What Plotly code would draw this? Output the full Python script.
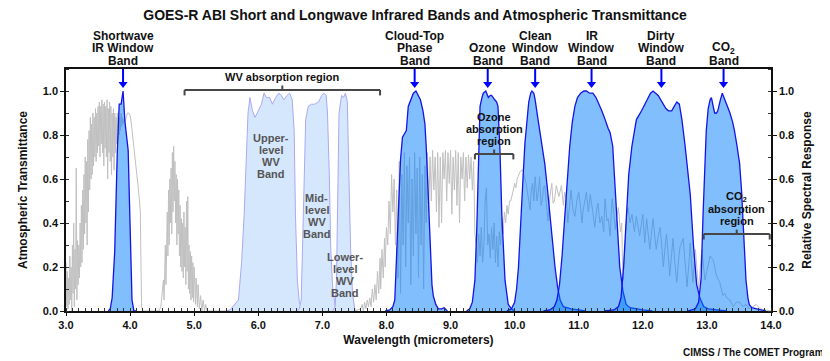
import plotly.graph_objects as go

# ---------------- data ----------------
trans_wl = [
    3.00, 3.01, 3.02, 3.03, 3.04, 3.05, 3.06, 3.07, 3.08, 3.09, 3.10, 3.11, 3.12, 3.13, 3.14, 3.15,
    3.16, 3.17, 3.18, 3.19, 3.20, 3.21, 3.22, 3.23, 3.24, 3.25, 3.26, 3.27, 3.28, 3.29, 3.30, 3.31,
    3.32, 3.33, 3.34, 3.35, 3.36, 3.37, 3.38, 3.39, 3.40, 3.41, 3.42, 3.43, 3.44, 3.45, 3.46, 3.47,
    3.48, 3.49, 3.50, 3.51, 3.52, 3.53, 3.54, 3.55, 3.56, 3.57, 3.58, 3.59, 3.60, 3.61, 3.62, 3.63,
    3.64, 3.65, 3.66, 3.67, 3.68, 3.69, 3.70, 3.71, 3.72, 3.73, 3.74, 3.75, 3.76, 3.77, 3.78, 3.79,
    3.80, 3.81, 3.82, 3.83, 3.84, 3.85, 3.86, 3.87, 3.88, 3.89, 3.90, 3.92, 3.94, 3.96, 3.98, 4.00,
    4.02, 4.04, 4.06, 4.08, 4.10, 4.12, 4.14, 4.16, 4.17, 4.18, 4.20,
    4.45, 4.48, 4.50, 4.52, 4.53, 4.55, 4.56, 4.58, 4.59, 4.60, 4.61, 4.62, 4.63, 4.64, 4.65, 4.66,
    4.67, 4.68, 4.69, 4.70, 4.71, 4.72, 4.73, 4.74, 4.75, 4.76, 4.77, 4.78, 4.79, 4.80, 4.81, 4.82,
    4.83, 4.84, 4.85, 4.86, 4.87, 4.88, 4.89, 4.90, 4.91, 4.92, 4.93, 4.94, 4.95, 4.96, 4.97, 4.98,
    4.99, 5.00, 5.02, 5.03, 5.05, 5.06, 5.08, 5.10, 5.12, 5.14, 5.16, 5.18, 5.20,
    7.50, 7.60, 7.62, 7.64, 7.66, 7.68, 7.70, 7.72, 7.74, 7.76, 7.78, 7.80, 7.82, 7.84, 7.86, 7.88,
    7.90, 7.91, 7.93, 7.95, 7.97, 7.98, 8.00, 8.02, 8.04, 8.06, 8.08, 8.10, 8.12, 8.14, 8.16, 8.18,
    8.20, 8.22, 8.24, 8.26, 8.28, 8.30, 8.32, 8.34, 8.36, 8.38, 8.40, 8.42, 8.44, 8.46, 8.48, 8.50,
    8.52, 8.54, 8.56, 8.58, 8.60, 8.62, 8.64, 8.66, 8.68, 8.70, 8.72, 8.74, 8.76, 8.78, 8.80, 8.82,
    8.84, 8.86, 8.88, 8.90, 8.92, 8.94, 8.96, 8.98, 9.00, 9.02, 9.04, 9.06, 9.08, 9.10, 9.12, 9.14,
    9.16, 9.18, 9.20, 9.22, 9.24, 9.26, 9.28, 9.30, 9.32, 9.34, 9.36, 9.38, 9.40, 9.42, 9.44, 9.46,
    9.48, 9.50, 9.52, 9.54, 9.56, 9.58, 9.60, 9.62, 9.64, 9.66, 9.68, 9.70, 9.72, 9.74, 9.76, 9.78,
    9.80, 9.82, 9.84, 9.86, 9.88, 9.90, 9.92, 9.94, 9.96, 9.98, 10.00, 10.02, 10.04, 10.06, 10.08,
    10.10, 10.13, 10.16, 10.18, 10.21, 10.24, 10.26, 10.28, 10.30, 10.32, 10.35, 10.37, 10.39, 10.41,
    10.43, 10.45, 10.47, 10.50, 10.52, 10.55, 10.58, 10.60, 10.62, 10.65, 10.69, 10.73, 10.76, 10.78,
    10.81, 10.83, 10.86, 10.88, 10.91, 10.94, 10.97, 11.00, 11.03, 11.05, 11.07, 11.09, 11.12, 11.15,
    11.18, 11.22, 11.25, 11.28, 11.30, 11.33, 11.36, 11.39, 11.41, 11.44, 11.46, 11.49, 11.52, 11.55,
    11.57, 11.60, 11.62, 11.65, 11.67, 11.69, 11.72, 11.75, 11.77, 11.80, 11.83, 11.87, 11.90, 11.93,
    11.95, 11.98, 12.00, 12.03, 12.06, 12.08, 12.11, 12.14, 12.16, 12.19, 12.21, 12.24, 12.27, 12.30,
    12.32, 12.35, 12.37, 12.40, 12.42, 12.45, 12.47, 12.50, 12.53, 12.56, 12.58, 12.63, 12.66, 12.69,
    12.72, 12.74, 12.78, 12.82, 12.87, 12.92, 12.97, 13.01, 13.05, 13.10, 13.15, 13.20, 13.25, 13.28,
    13.31, 13.36, 13.41, 13.46, 13.51, 13.56, 13.61, 13.66, 13.72, 13.77, 13.83, 13.90, 14.00,
]
trans_val = [
    0.22, 0.02, 0.18, 0.01, 0.15, 0.03, 0.25, 0.05, 0.20, 0.00, 0.30, 0.08, 0.40, 0.02, 0.28, 0.10,
    0.65, 0.05, 0.32, 0.12, 0.30, 0.15, 0.40, 0.20, 0.48, 0.22, 0.55, 0.28, 0.62, 0.35, 0.70, 0.40,
    0.68, 0.30, 0.78, 0.45, 0.82, 0.55, 0.88, 0.60, 0.85, 0.62, 0.90, 0.66, 0.88, 0.70, 0.92, 0.68,
    0.90, 0.72, 0.93, 0.75, 0.95, 0.70, 0.93, 0.76, 0.96, 0.72, 0.94, 0.66, 0.95, 0.74, 0.93, 0.70,
    0.96, 0.60, 0.92, 0.72, 0.95, 0.68, 0.93, 0.62, 0.90, 0.70, 0.92, 0.64, 0.90, 0.72, 0.88, 0.76,
    0.90, 0.78, 0.87, 0.80, 0.88, 0.82, 0.90, 0.84, 0.88, 0.85, 0.87, 0.86, 0.88, 0.90, 0.90, 0.89,
    0.85, 0.80, 0.74, 0.68, 0.64, 0.58, 0.52, 0.45, 0.20, 0.02, 0.00,
    0.00, 0.02, 0.08, 0.14, 0.05, 0.30, 0.12, 0.45, 0.25, 0.55, 0.30, 0.60, 0.40, 0.65, 0.35, 0.72,
    0.45, 0.75, 0.50, 0.68, 0.40, 0.62, 0.30, 0.60, 0.35, 0.55, 0.25, 0.48, 0.20, 0.42, 0.18, 0.40,
    0.15, 0.45, 0.20, 0.38, 0.12, 0.50, 0.18, 0.52, 0.10, 0.30, 0.08, 0.27, 0.05, 0.25, 0.06, 0.22,
    0.04, 0.20, 0.03, 0.15, 0.02, 0.12, 0.01, 0.07, 0.00, 0.05, 0.00, 0.03, 0.00,
    0.00, 0.01, 0.03, 0.00, 0.04, 0.01, 0.05, 0.02, 0.06, 0.02, 0.10, 0.04, 0.12, 0.05, 0.18, 0.08,
    0.24, 0.10, 0.28, 0.15, 0.33, 0.20, 0.38, 0.30, 0.50, 0.35, 0.62, 0.45, 0.60, 0.30, 0.55, 0.15,
    0.68, 0.08, 0.62, 0.30, 0.72, 0.20, 0.66, 0.40, 0.70, 0.12, 0.60, 0.25, 0.72, 0.35, 0.65, 0.15,
    0.70, 0.30, 0.62, 0.10, 0.66, 0.40, 0.72, 0.45, 0.70, 0.50, 0.73, 0.55, 0.70, 0.45, 0.72, 0.38,
    0.70, 0.40, 0.72, 0.60, 0.73, 0.50, 0.72, 0.58, 0.73, 0.44, 0.70, 0.55, 0.73, 0.48, 0.72, 0.40,
    0.70, 0.60, 0.72, 0.50, 0.70, 0.56, 0.71, 0.60, 0.70, 0.55, 0.68, 0.35, 0.30, 0.22, 0.35, 0.25,
    0.38, 0.22, 0.30, 0.50, 0.56, 0.30, 0.35, 0.24, 0.38, 0.28, 0.40, 0.22, 0.34, 0.20, 0.36, 0.30,
    0.42, 0.35, 0.45, 0.40, 0.48, 0.44, 0.50, 0.50, 0.52, 0.55, 0.58, 0.56, 0.60, 0.62, 0.63,
    0.64, 0.64, 0.60, 0.58, 0.52, 0.46, 0.55, 0.58, 0.50, 0.61, 0.50, 0.54, 0.61, 0.48,
    0.50, 0.56, 0.57, 0.47, 0.41, 0.52, 0.58, 0.49, 0.50, 0.57, 0.52, 0.57, 0.48, 0.54,
    0.50, 0.40, 0.50, 0.55, 0.46, 0.43, 0.50, 0.54, 0.47, 0.40, 0.46, 0.50, 0.54, 0.45,
    0.53, 0.45, 0.38, 0.46, 0.49, 0.40, 0.43, 0.36, 0.51, 0.41, 0.42, 0.34, 0.51, 0.44,
    0.37, 0.44, 0.47, 0.36, 0.40, 0.14, 0.28, 0.44, 0.47, 0.40, 0.44, 0.36, 0.43, 0.38,
    0.34, 0.40, 0.44, 0.31, 0.42, 0.36, 0.28, 0.37, 0.42, 0.33, 0.28, 0.34, 0.38, 0.28,
    0.20, 0.30, 0.35, 0.24, 0.16, 0.26, 0.33, 0.22, 0.13, 0.24, 0.29, 0.33, 0.20, 0.11,
    0.22, 0.31, 0.13, 0.28, 0.10, 0.28, 0.14, 0.20, 0.25, 0.23, 0.16, 0.13, 0.07, 0.08,
    0.06, 0.05, 0.02, 0.04, 0.04, 0.02, 0.03, 0.01, 0.02, 0.03, 0.01, 0.005, 0.00,
]

# Water-vapour bands (light)
b08_wl = [5.50, 5.56, 5.69, 5.74, 5.78, 5.81, 5.84, 5.87, 5.91, 5.95, 6.00, 6.05, 6.09, 6.13, 6.18,
          6.22, 6.27, 6.32, 6.36, 6.40, 6.45, 6.49, 6.53, 6.56, 6.58, 6.61, 6.64, 6.70]
b08_rsr = [0.0, 0.005, 0.05, 0.22, 0.44, 0.67, 0.90, 0.97, 0.91, 0.88, 0.91, 0.94, 0.99, 0.97, 0.97,
           0.94, 0.97, 0.99, 0.98, 0.96, 0.98, 0.99, 0.96, 0.82, 0.44, 0.14, 0.04, 0.0]
b09_wl = [6.60, 6.64, 6.67, 6.69, 6.71, 6.74, 6.78, 6.83, 6.88, 6.94, 6.99, 7.02, 7.06, 7.08, 7.11,
          7.13, 7.16, 7.20, 7.25]
b09_rsr = [0.0, 0.01, 0.05, 0.29, 0.60, 0.87, 0.93, 0.94, 0.94, 0.95, 0.98, 0.99, 0.98, 0.90, 0.60,
           0.29, 0.11, 0.02, 0.0]
b10_wl = [7.16, 7.20, 7.22, 7.24, 7.26, 7.30, 7.33, 7.36, 7.39, 7.41, 7.44, 7.47, 7.51]
b10_rsr = [0.0, 0.02, 0.14, 0.60, 0.90, 0.98, 0.97, 0.99, 0.95, 0.67, 0.29, 0.08, 0.0]

# Infrared bands (blue)
b07_wl = [3.66, 3.69, 3.72, 3.76, 3.80, 3.83, 3.86, 3.89, 3.92, 3.95, 3.97, 3.99, 4.01, 4.03, 4.06, 4.10]
b07_rsr = [0.0, 0.01, 0.06, 0.27, 0.72, 0.94, 0.94, 1.0, 0.86, 0.76, 0.73, 0.50, 0.20, 0.05, 0.0, 0.0]
b11_wl = [7.98, 8.05, 8.10, 8.13, 8.18, 8.22, 8.25, 8.29, 8.31, 8.34, 8.38, 8.42, 8.46, 8.50, 8.53,
          8.57, 8.60, 8.62, 8.65, 8.68, 8.71, 8.73, 8.77, 8.81, 8.86, 8.90, 8.95]
b11_rsr = [0.0, 0.005, 0.02, 0.05, 0.41, 0.69, 0.79, 0.81, 0.82, 0.93, 0.96, 0.99, 1.0, 0.98, 0.96,
           0.91, 0.85, 0.75, 0.55, 0.29, 0.12, 0.07, 0.03, 0.01, 0.01, 0.015, 0.0]
b12_wl = [9.25, 9.30, 9.34, 9.38, 9.41, 9.43, 9.46, 9.49, 9.51, 9.55, 9.59, 9.62, 9.64, 9.69, 9.72,
          9.74, 9.77, 9.80, 9.85, 9.90, 9.95, 10.0]
b12_rsr = [0.0, 0.01, 0.04, 0.14, 0.38, 0.60, 0.93, 0.97, 0.99, 1.0, 0.97, 0.98, 0.98, 0.96, 0.95,
           0.93, 0.74, 0.44, 0.14, 0.03, 0.01, 0.0]
b13_wl = [9.88, 9.95, 10.00, 10.03, 10.06, 10.10, 10.13, 10.16, 10.19, 10.22, 10.25, 10.27, 10.30,
          10.32, 10.36, 10.39, 10.43, 10.47, 10.51, 10.55, 10.59, 10.63, 10.67, 10.71, 10.76, 10.81,
          10.88, 11.00, 11.10]
b13_rsr = [0.0, 0.01, 0.04, 0.10, 0.20, 0.40, 0.60, 0.76, 0.87, 0.95, 0.99, 1.0, 0.99, 0.96, 0.88,
           0.82, 0.75, 0.67, 0.56, 0.44, 0.31, 0.20, 0.11, 0.05, 0.02, 0.015, 0.01, 0.005, 0.0]
b14_wl = [10.45, 10.55, 10.62, 10.66, 10.70, 10.74, 10.78, 10.82, 10.86, 10.90, 10.94, 10.98, 11.03,
          11.08, 11.12, 11.17, 11.22, 11.27, 11.32, 11.36, 11.40, 11.43, 11.46, 11.49, 11.53, 11.56,
          11.60, 11.64, 11.69, 11.74, 11.80, 11.88, 12.00, 12.15]
b14_rsr = [0.0, 0.005, 0.02, 0.05, 0.12, 0.25, 0.42, 0.60, 0.75, 0.86, 0.93, 0.97, 0.99, 1.0, 1.0,
           0.99, 0.99, 0.97, 0.94, 0.91, 0.88, 0.85, 0.83, 0.81, 0.75, 0.60, 0.37, 0.20, 0.09, 0.03,
           0.015, 0.01, 0.005, 0.0]
b15_wl = [11.40, 11.55, 11.62, 11.66, 11.70, 11.74, 11.78, 11.83, 11.90, 11.98, 12.06, 12.12, 12.16,
          12.20, 12.24, 12.28, 12.32, 12.36, 12.40, 12.45, 12.49, 12.53, 12.57, 12.61, 12.66, 12.70,
          12.74, 12.79, 12.84, 12.89, 12.95, 13.02, 13.15, 13.30]
b15_rsr = [0.0, 0.005, 0.02, 0.06, 0.20, 0.44, 0.62, 0.75, 0.87, 0.91, 0.96, 0.99, 1.0, 0.99, 0.98,
           0.96, 0.94, 0.92, 0.91, 0.91, 0.93, 0.95, 0.94, 0.87, 0.75, 0.65, 0.53, 0.30, 0.12, 0.06,
           0.02, 0.01, 0.005, 0.0]
b16_wl = [12.70, 12.82, 12.87, 12.91, 12.94, 12.97, 12.99, 13.02, 13.05, 13.07, 13.10, 13.12, 13.15,
          13.17, 13.21, 13.24, 13.28, 13.32, 13.36, 13.40, 13.43, 13.47, 13.51, 13.54, 13.56, 13.59,
          13.61, 13.64, 13.66, 13.70, 13.77, 13.85, 13.92]
b16_rsr = [0.0, 0.01, 0.04, 0.15, 0.44, 0.70, 0.82, 0.92, 0.96, 0.97, 0.93, 0.90, 0.90, 0.91, 0.96,
           0.99, 0.96, 0.93, 0.90, 0.86, 0.82, 0.75, 0.67, 0.55, 0.44, 0.28, 0.14, 0.06, 0.03, 0.015,
           0.01, 0.005, 0.0]

# Band labels above the chart and their arrow positions (micrometers)
band_label_text = ["Shortwave<br>IR Window<br>Band", "Cloud-Top<br>Phase<br>Band", "Ozone<br>Band",
                   "Clean<br>Window<br>Band", "IR<br>Window<br>Band", "Dirty<br>Window<br>Band",
                   "CO<sub>2</sub><br>Band"]
band_label_wl = [3.89, 8.44, 9.58, 10.32, 11.20, 12.29, 13.26]

wv_label_text = ["Upper-<br>level<br>WV<br>Band", "Mid-<br>level<br>WV<br>Band",
                 "Lower-<br>level<br>WV<br>Band"]
wv_label_wl = [6.20, 6.91, 7.36]
wv_label_top = [0.785, 0.515, 0.245]   # level of first text line

# absorption regions: (start, end, level)
region_names = ["WV absorption region", "Ozone<br>absorption<br>region", "CO<sub>2</sub><br>absorption<br>region"]
region_start = [4.85, 9.38, 12.95]
region_end = [7.90, 9.98, 13.98]
region_level = [1.005, 0.714, 0.35]

x_ticks = [3, 4, 5, 6, 7, 8, 9, 10, 11, 12, 13, 14]
y_ticks = [0.0, 0.2, 0.4, 0.6, 0.8, 1.0]

# ---------------- figure ----------------
# The page body adds an 8 px offset before the 830x361 figure; margins are
# chosen so that the plot box lands at the reference's screen position.
OFF = 8
W, H = 830, 361
PLOT_L, PLOT_R, PLOT_T, PLOT_B = 66, 771, 69, 311      # screen pixels of the plot box
ML, MR = PLOT_L - OFF, W - (PLOT_R - OFF)
MT, MB = PLOT_T - OFF, H - (PLOT_B - OFF)
PH = PLOT_B - PLOT_T
PW = PLOT_R - PLOT_L
YMAX = 1.1
FONT = "Liberation Sans, Arial, sans-serif"
ARROW_Y = 1.032   # centre of arrow heads (data units)


def py_to_paper(py):
    return (PLOT_B - py) / PH


fig = go.Figure()

for wl, r in [(b08_wl, b08_rsr), (b09_wl, b09_rsr), (b10_wl, b10_rsr)]:
    fig.add_trace(go.Scatter(x=wl, y=r, mode="lines", fill="tozeroy", fillcolor="#D5E7FD",
                             line=dict(color="#A9A9F5", width=1), yaxis="y2", hoverinfo="skip"))

# transmittance (drawn below the translucent IR band fills)
fig.add_trace(go.Scatter(x=trans_wl, y=trans_val, mode="lines",
                         line=dict(color="#C0C0C0", width=1), yaxis="y", hoverinfo="skip"))

for wl, r in [(b07_wl, b07_rsr), (b11_wl, b11_rsr), (b12_wl, b12_rsr), (b13_wl, b13_rsr),
              (b14_wl, b14_rsr), (b15_wl, b15_rsr), (b16_wl, b16_rsr)]:
    fig.add_trace(go.Scatter(x=wl, y=r, mode="lines", fill="tozeroy",
                             fillcolor="rgba(2,126,251,0.5)",
                             line=dict(color="#1414E6", width=1.3), yaxis="y2", hoverinfo="skip"))

# arrow heads
fig.add_trace(go.Scatter(x=band_label_wl, y=[ARROW_Y] * len(band_label_wl), mode="markers",
                         marker=dict(symbol="triangle-down", size=8, color="#0000FF",
                                     line=dict(width=0)),
                         yaxis="y2", cliponaxis=False, hoverinfo="skip"))

annotations = []
shapes = []

# band labels (each line placed separately for tight line spacing) + arrow stems
LINE = 12.5
for text, wl in zip(band_label_text, band_label_wl):
    lines = text.split("<br>")
    n = len(lines)
    for i, ln in enumerate(lines):
        py = 61 - (n - 1 - i) * LINE
        annotations.append(dict(x=wl, xref="x", y=py_to_paper(py), yref="paper", text=ln,
                                showarrow=False, xanchor="center", yanchor="middle",
                                font=dict(family=FONT, size=12, color="#111", weight="bold")))
    shapes.append(dict(type="line", xref="x", yref="y", x0=wl, x1=wl, y0=ARROW_Y + 0.005,
                       y1=YMAX, line=dict(color="#0000FF", width=2)))

# WV band labels
for text, wl, top in zip(wv_label_text, wv_label_wl, wv_label_top):
    for i, ln in enumerate(text.split("<br>")):
        annotations.append(dict(x=wl, xref="x", y=top, yref="y", yshift=-i * 12, text=ln,
                                showarrow=False, xanchor="center", yanchor="middle",
                                font=dict(family=FONT, size=11, color="#555", weight="bold")))

# absorption region brackets
BR = "#474747"
for name, x0, x1, lev in zip(region_names, region_start, region_end, region_level):
    xc = (x0 + x1) / 2
    shapes.append(dict(type="line", xref="x", yref="y", x0=x0, x1=x1, y0=lev, y1=lev,
                       line=dict(color=BR, width=2)))
    for xe in (x0, x1):
        shapes.append(dict(type="line", xref="x", yref="y", x0=xe, x1=xe, y0=lev, y1=lev - 0.025,
                           line=dict(color=BR, width=2)))
    shapes.append(dict(type="line", xref="x", yref="y", x0=xc, x1=xc, y0=lev, y1=lev + 0.02,
                       line=dict(color=BR, width=2)))
    lines = name.split("<br>")
    n = len(lines)
    for i, ln in enumerate(lines):
        annotations.append(dict(x=xc, xref="x", y=lev, yref="y", yshift=13 + (n - 1 - i) * 12,
                                text=ln, showarrow=False, xanchor="center", yanchor="middle",
                                font=dict(family=FONT, size=11, color="#111", weight="bold")))

# credit
annotations.append(dict(x=(826 - PLOT_L) / PW, xref="paper", y=py_to_paper(352), yref="paper",
                        text="CIMSS / The COMET Program", showarrow=False, xanchor="right",
                        yanchor="middle", font=dict(family=FONT, size=10, color="#111", weight="bold")))

axis_font = dict(family=FONT, size=11, color="#111", weight="bold")
title_font = dict(family=FONT, size=12, color="#111", weight="bold")

fig.update_layout(
    width=W, height=H,
    margin=dict(l=ML, r=MR, t=MT, b=MB, pad=0, autoexpand=False),
    paper_bgcolor="white", plot_bgcolor="white",
    showlegend=False,
    title=dict(text="GOES-R ABI Short and Longwave Infrared Bands and Atmospheric Transmittance",
               x=(415 - OFF) / W, xanchor="center", y=1 - (15 - OFF) / H, yanchor="middle",
               font=dict(family=FONT, size=14, color="#111", weight="bold")),
    xaxis=dict(range=[3, 14], tickvals=x_ticks, ticktext=[f"{v:.1f}" for v in x_ticks],
               ticks="outside", ticklen=3, tickcolor="#111", showline=True, linecolor="#111",
               linewidth=1.5, mirror=True, showgrid=False, zeroline=False, tickfont=axis_font,
               automargin=False,
               minor=dict(dtick=0.1, tick0=3, ticks="inside", ticklen=3, tickcolor="#333"),
               title=dict(text="Wavelength (micrometers)", font=title_font, standoff=6)),
    yaxis=dict(range=[0, YMAX], tickvals=y_ticks, ticktext=[f"{v:.1f}" for v in y_ticks],
               ticks="outside", ticklen=4, tickcolor="#111", showline=True, linecolor="#111",
               linewidth=1.5, mirror=True, showgrid=False, zeroline=False, tickfont=axis_font,
               automargin=False,
               minor=dict(dtick=0.1, tick0=0, ticks="inside", ticklen=3, tickcolor="#333"),
               title=dict(text="Atmospheric Transmittance", font=title_font, standoff=13)),
    yaxis2=dict(range=[0, YMAX], overlaying="y", side="right", tickvals=y_ticks,
                ticktext=[f"{v:.1f}" for v in y_ticks], ticks="outside", ticklen=4,
                tickcolor="#111", showline=True, linecolor="#111", linewidth=1.5,
                showgrid=False, zeroline=False, tickfont=axis_font, automargin=False,
                minor=dict(dtick=0.1, tick0=0, ticks="inside", ticklen=3, tickcolor="#333"),
                title=dict(text="Relative Spectral Response", font=title_font, standoff=8)),
    annotations=annotations,
    shapes=shapes,
)

fig.write_html("out.html")
